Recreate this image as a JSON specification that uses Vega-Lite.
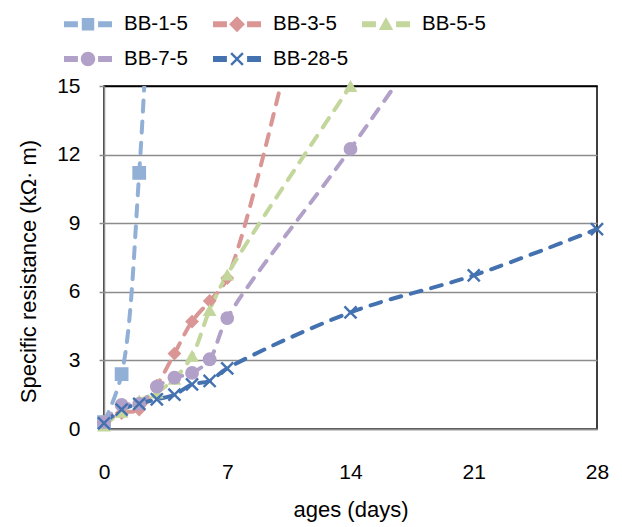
{
  "$schema": "https://vega.github.io/schema/vega-lite/v6.json",
  "width": 493,
  "height": 343,
  "autosize": {"type": "none"},
  "padding": {"left": 104, "top": 86, "right": 25, "bottom": 98},
  "config": {
    "font": "Liberation Sans",
    "view": {"stroke": "black", "strokeWidth": 1.5}
  },
  "data": {
    "values": [
      {"series": "BB-1-5", "day": 0, "v": 0.3},
      {"series": "BB-1-5", "day": 1, "v": 2.4},
      {"series": "BB-1-5", "day": 2, "v": 11.2},
      {"series": "BB-1-5", "day": 3, "v": 27},
      {"series": "BB-3-5", "day": 0, "v": 0.3},
      {"series": "BB-3-5", "day": 1, "v": 0.7},
      {"series": "BB-3-5", "day": 2, "v": 0.85},
      {"series": "BB-3-5", "day": 3, "v": 1.9},
      {"series": "BB-3-5", "day": 4, "v": 3.3},
      {"series": "BB-3-5", "day": 5, "v": 4.7},
      {"series": "BB-3-5", "day": 6, "v": 5.6},
      {"series": "BB-3-5", "day": 7, "v": 6.6},
      {"series": "BB-3-5", "day": 14, "v": 28.5},
      {"series": "BB-5-5", "day": 0, "v": 0.15},
      {"series": "BB-5-5", "day": 1, "v": 0.75},
      {"series": "BB-5-5", "day": 2, "v": 1.25},
      {"series": "BB-5-5", "day": 3, "v": 1.6},
      {"series": "BB-5-5", "day": 4, "v": 2.2},
      {"series": "BB-5-5", "day": 5, "v": 3.2},
      {"series": "BB-5-5", "day": 6, "v": 5.2},
      {"series": "BB-5-5", "day": 7, "v": 6.75},
      {"series": "BB-5-5", "day": 14, "v": 15.0},
      {"series": "BB-7-5", "day": 0, "v": 0.3},
      {"series": "BB-7-5", "day": 1, "v": 1.05},
      {"series": "BB-7-5", "day": 2, "v": 1.1},
      {"series": "BB-7-5", "day": 3, "v": 1.85},
      {"series": "BB-7-5", "day": 4, "v": 2.25},
      {"series": "BB-7-5", "day": 5, "v": 2.45},
      {"series": "BB-7-5", "day": 6, "v": 3.05},
      {"series": "BB-7-5", "day": 7, "v": 4.85},
      {"series": "BB-7-5", "day": 14, "v": 12.25},
      {"series": "BB-7-5", "day": 21, "v": 20},
      {"series": "BB-28-5", "day": 0, "v": 0.25},
      {"series": "BB-28-5", "day": 1, "v": 0.85},
      {"series": "BB-28-5", "day": 2, "v": 1.1},
      {"series": "BB-28-5", "day": 3, "v": 1.3},
      {"series": "BB-28-5", "day": 4, "v": 1.5},
      {"series": "BB-28-5", "day": 5, "v": 1.95},
      {"series": "BB-28-5", "day": 6, "v": 2.1},
      {"series": "BB-28-5", "day": 7, "v": 2.65},
      {"series": "BB-28-5", "day": 14, "v": 5.1},
      {"series": "BB-28-5", "day": 21, "v": 6.72},
      {"series": "BB-28-5", "day": 28, "v": 8.74}
    ]
  },
  "layer": [
    {
      "mark": {"type": "line", "clip": true, "strokeDash": [11, 10], "strokeWidth": 4, "strokeCap": "round", "interpolate": "catmull-rom"},
      "encoding": {
        "x": {
          "field": "day", "type": "quantitative",
          "scale": {"domain": [0, 28], "nice": false},
          "axis": {
            "title": "ages (days)", "values": [0, 7, 14, 21, 28], "grid": false, "ticks": false,
            "domainColor": "#8c8c8c", "domainWidth": 1.5, "labelFlush": false,
            "labelFontSize": 21, "labelColor": "black", "labelPadding": 32,
            "titleFontSize": 22, "titleFontWeight": "normal", "titleColor": "black", "titlePadding": 17
          }
        },
        "y": {
          "field": "v", "type": "quantitative",
          "scale": {"domain": [0, 15], "nice": false},
          "axis": {
            "title": "Specific resistance (kΩ· m)", "values": [0, 3, 6, 9, 12, 15], "grid": true,
            "gridColor": {"condition": {"test": "datum.value === 15", "value": "black"}, "value": "#8c8c8c"},
            "gridWidth": 1.5, "domainColor": "#8c8c8c", "domainWidth": 1.5, "tickColor": "#8c8c8c", "tickSize": 5, "tickWidth": 1.5,
            "labelFlush": false, "labelFontSize": 21, "labelColor": "black", "labelPadding": 19,
            "titleFontSize": 22, "titleFontWeight": "normal", "titleColor": "black", "titlePadding": 16, "titleY": 185
          }
        },
        "color": {
          "field": "series", "type": "nominal",
          "scale": {"domain": ["BB-1-5", "BB-3-5", "BB-5-5", "BB-7-5", "BB-28-5"], "range": ["#92AFD6", "#D99694", "#C3D69B", "#B1A0C7", "#4472B0"]},
          "legend": null
        }
      }
    },
    {
      "transform": [{"filter": "datum.v <= 15"}],
      "mark": {"type": "point", "filled": true, "opacity": 1, "size": 190},
      "encoding": {
        "x": {"field": "day", "type": "quantitative"},
        "y": {"field": "v", "type": "quantitative"},
        "color": {
          "field": "series", "type": "nominal",
          "scale": {"domain": ["BB-1-5", "BB-3-5", "BB-5-5", "BB-7-5", "BB-28-5"], "range": ["#92AFD6", "#D99694", "#C3D69B", "#B1A0C7", "#4472B0"]},
          "legend": null
        },
        "shape": {
          "field": "series", "type": "nominal",
          "scale": {"domain": ["BB-1-5", "BB-3-5", "BB-5-5", "BB-7-5", "BB-28-5"], "range": ["square", "diamond", "triangle-up", "circle", "M-1,-0.75L-0.75,-1L0,-0.25L0.75,-1L1,-0.75L0.25,0L1,0.75L0.75,1L0,0.25L-0.75,1L-1,0.75L-0.25,0Z"]},
          "legend": null
        }
      }
    },
    {
      "mark": {"type": "point", "filled": true, "opacity": 0, "size": 2304, "clip": true},
      "encoding": {
        "x": {"field": "day", "type": "quantitative"},
        "y": {"field": "v", "type": "quantitative"},
        "color": {
          "field": "series", "type": "nominal",
          "scale": {"domain": ["BB-1-5", "BB-3-5", "BB-5-5", "BB-7-5", "BB-28-5"], "range": ["#92AFD6", "#D99694", "#C3D69B", "#B1A0C7", "#4472B0"]},
          "legend": {
            "title": null, "orient": "none", "legendX": -40, "legendY": -86, "direction": "horizontal", "columns": 3,
            "gridAlign": "all", "columnPadding": 13, "rowPadding": -9, "symbolSize": 2304, "symbolStrokeWidth": 0,
            "symbolOpacity": 1, "labelFontSize": 20.5, "labelColor": "black", "labelOffset": 12, "padding": 0, "labelLimit": 200
          }
        },
        "shape": {
          "field": "series", "type": "nominal",
          "scale": {"domain": ["BB-1-5", "BB-3-5", "BB-5-5", "BB-7-5", "BB-28-5"], "range": [
            "M-1,-0.12H-0.42V0.12H-1ZM0.42,-0.12H1V0.12H0.42ZM-0.26,-0.26H0.26V0.26H-0.26Z",
            "M-1,-0.12H-0.42V0.12H-1ZM0.42,-0.12H1V0.12H0.42ZM0,-0.33L0.33,0L0,0.33L-0.33,0Z",
            "M-1,-0.12H-0.42V0.12H-1ZM0.42,-0.12H1V0.12H0.42ZM0,-0.3L0.3,0.24H-0.3Z",
            "M-1,-0.12H-0.42V0.12H-1ZM0.42,-0.12H1V0.12H0.42ZM-0.3,0A0.3,0.3 0 1,0 0.3,0A0.3,0.3 0 1,0 -0.3,0Z",
            "M-1,-0.12H-0.42V0.12H-1ZM0.42,-0.12H1V0.12H0.42ZM-0.28,-0.21L-0.21,-0.28L0,-0.07L0.21,-0.28L0.28,-0.21L0.07,0L0.28,0.21L0.21,0.28L0,0.07L-0.21,0.28L-0.28,0.21L-0.07,0Z"
          ]},
          "legend": {
            "title": null, "orient": "none", "legendX": -40, "legendY": -86, "direction": "horizontal", "columns": 3,
            "gridAlign": "all", "columnPadding": 13, "rowPadding": -9, "symbolSize": 2304, "symbolStrokeWidth": 0,
            "symbolOpacity": 1, "labelFontSize": 20.5, "labelColor": "black", "labelOffset": 12, "padding": 0, "labelLimit": 200
          }
        }
      }
    }
  ],
  "resolve": {"scale": {"color": "independent", "shape": "independent"}}
}
